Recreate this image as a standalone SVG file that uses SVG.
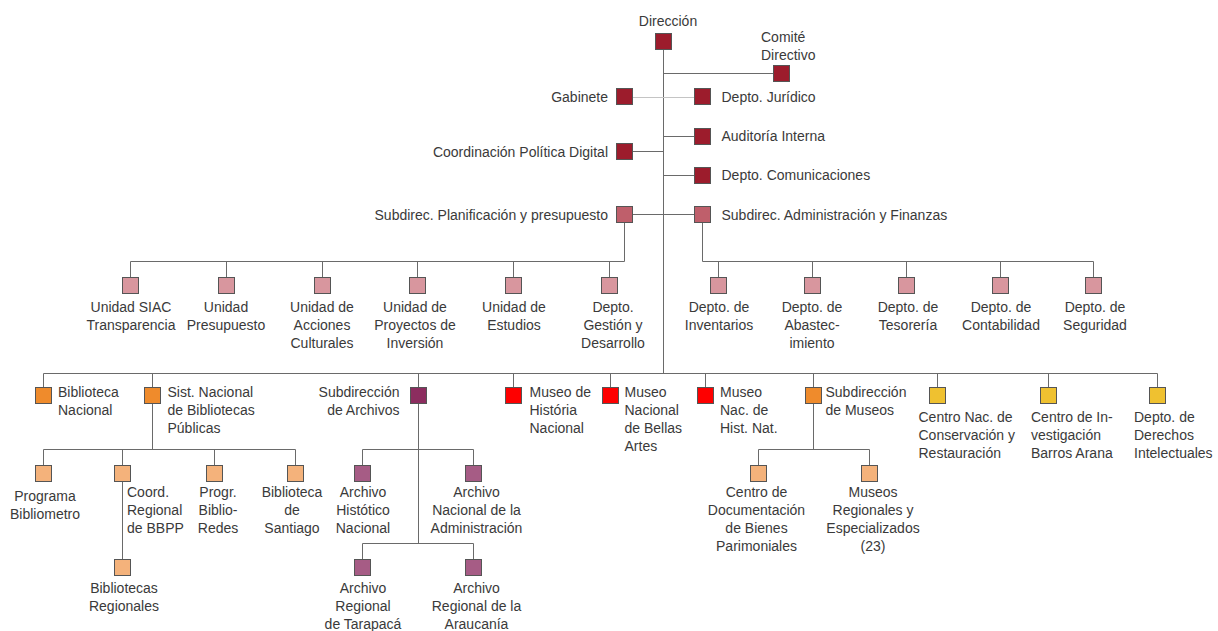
<svg xmlns="http://www.w3.org/2000/svg" width="1218" height="631" viewBox="0 0 1218 631">
<style>
.t{font-family:"Liberation Sans",Arial,sans-serif;font-size:14px;fill:#3a3a3a}
.m{text-anchor:middle}
.e{text-anchor:end}
.ln{stroke:#6a6a6a;stroke-width:1;fill:none}
.lt{stroke:#c4c4c4;stroke-width:1;fill:none}
.bx{stroke:#555;stroke-width:1}
.c1{fill:#9c1c2c}.c2{fill:#bf5f6b}.c3{fill:#d8969e}
.c4{fill:#ef8b2c}.c5{fill:#f4b27b}.c6{fill:#8c2d5f}.c7{fill:#a65c85}
.c8{fill:#fe0000}.c9{fill:#efc130}
</style>
<rect x="0" y="0" width="1218" height="631" fill="#ffffff"/>
<g id="connectors">
<path class="ln" d="M663.5 50V373.5"/>
<path class="ln" d="M663.5 73.5H773"/>
<path class="lt" d="M633 97.5H694"/>
<path class="ln" d="M663.5 136.5H694"/>
<path class="ln" d="M633 151.5H663.5"/>
<path class="ln" d="M663.5 175.5H694"/>
<path class="ln" d="M633 214.5H694"/>
<path class="ln" d="M624.5 223V261.5H130.5M130.5 261.5V277M226.5 261.5V277M322.5 261.5V277M417.5 261.5V277M513.5 261.5V277M609.5 261.5V277"/>
<path class="ln" d="M702.5 223V261.5H1093.5M718.5 261.5V277M812.5 261.5V277M906.5 261.5V277M1000.5 261.5V277M1093.5 261.5V277"/>
<path class="ln" d="M43.5 373.5H1157.5M43.5 373.5V387M152.5 373.5V387M418.5 373.5V387M513.5 373.5V387M610.5 373.5V387M705.5 373.5V387M813.5 373.5V387M937.5 373.5V387M1048.5 373.5V387M1157.5 373.5V387"/>
<path class="ln" d="M152.5 404V449.5M43.5 449.5H295.5M43.5 449.5V465M122.5 449.5V465M214.5 449.5V465M295.5 449.5V465"/>
<path class="ln" d="M122.5 482V559"/>
<path class="ln" d="M418.5 404V543.5M362.5 449.5H473.5M362.5 449.5V465M473.5 449.5V465M362.5 543.5H473.5M362.5 543.5V559M473.5 543.5V559"/>
<path class="ln" d="M813.5 404V449.5M758.5 449.5H869.5M758.5 449.5V465M869.5 449.5V465"/>
</g>
<g id="n-direccion"><rect class="bx c1" x="655.5" y="33.5" width="16" height="16"/><text class="t m" x="668" y="25.5">Dirección</text></g>
<g id="n-comite"><rect class="bx c1" x="773.5" y="65.5" width="16" height="16"/><text class="t" x="761" y="41.5">Comité</text><text class="t" x="761" y="59.5">Directivo</text></g>
<g id="n-gabinete"><rect class="bx c1" x="616.5" y="88.5" width="16" height="16"/><text class="t e" x="608" y="102">Gabinete</text></g>
<g id="n-juridico"><rect class="bx c1" x="694.5" y="88.5" width="16" height="16"/><text class="t" x="721.5" y="102">Depto. Jurídico</text></g>
<g id="n-auditoria"><rect class="bx c1" x="694.5" y="128.5" width="16" height="16"/><text class="t" x="721.5" y="141">Auditoría Interna</text></g>
<g id="n-coordinacion"><rect class="bx c1" x="616.5" y="143.5" width="16" height="16"/><text class="t e" x="608" y="156.5">Coordinación Política Digital</text></g>
<g id="n-comunicaciones"><rect class="bx c1" x="694.5" y="167.5" width="16" height="16"/><text class="t" x="721.5" y="180">Depto. Comunicaciones</text></g>
<g id="n-planificacion"><rect class="bx c2" x="616.5" y="206.5" width="16" height="16"/><text class="t e" x="608" y="219.5">Subdirec. Planificación y presupuesto</text></g>
<g id="n-administracion"><rect class="bx c2" x="694.5" y="206.5" width="16" height="16"/><text class="t" x="721.5" y="219.5">Subdirec. Administración y Finanzas</text></g>
<g id="n-siac"><rect class="bx c3" x="122.5" y="277.5" width="16" height="16"/><text class="t m" x="131" y="311.5">Unidad SIAC</text><text class="t m" x="131" y="329.5">Transparencia</text></g>
<g id="n-presupuesto"><rect class="bx c3" x="218.5" y="277.5" width="16" height="16"/><text class="t m" x="226" y="311.5">Unidad</text><text class="t m" x="226" y="329.5">Presupuesto</text></g>
<g id="n-acciones"><rect class="bx c3" x="314.5" y="277.5" width="16" height="16"/><text class="t m" x="322" y="311.5">Unidad de</text><text class="t m" x="322" y="329.5">Acciones</text><text class="t m" x="322" y="347.5">Culturales</text></g>
<g id="n-proyectos"><rect class="bx c3" x="409.5" y="277.5" width="16" height="16"/><text class="t m" x="415" y="311.5">Unidad de</text><text class="t m" x="415" y="329.5">Proyectos de</text><text class="t m" x="415" y="347.5">Inversión</text></g>
<g id="n-estudios"><rect class="bx c3" x="505.5" y="277.5" width="16" height="16"/><text class="t m" x="514" y="311.5">Unidad de</text><text class="t m" x="514" y="329.5">Estudios</text></g>
<g id="n-gestion"><rect class="bx c3" x="601.5" y="277.5" width="16" height="16"/><text class="t m" x="613" y="311.5">Depto.</text><text class="t m" x="613" y="329.5">Gestión y</text><text class="t m" x="613" y="347.5">Desarrollo</text></g>
<g id="n-inventarios"><rect class="bx c3" x="710.5" y="277.5" width="16" height="16"/><text class="t m" x="719" y="311.5">Depto. de</text><text class="t m" x="719" y="329.5">Inventarios</text></g>
<g id="n-abastecimiento"><rect class="bx c3" x="804.5" y="277.5" width="16" height="16"/><text class="t m" x="812" y="311.5">Depto. de</text><text class="t m" x="812" y="329.5">Abastec-</text><text class="t m" x="812" y="347.5">imiento</text></g>
<g id="n-tesoreria"><rect class="bx c3" x="898.5" y="277.5" width="16" height="16"/><text class="t m" x="908" y="311.5">Depto. de</text><text class="t m" x="908" y="329.5">Tesorería</text></g>
<g id="n-contabilidad"><rect class="bx c3" x="992.5" y="277.5" width="16" height="16"/><text class="t m" x="1001" y="311.5">Depto. de</text><text class="t m" x="1001" y="329.5">Contabilidad</text></g>
<g id="n-seguridad"><rect class="bx c3" x="1085.5" y="277.5" width="16" height="16"/><text class="t m" x="1095" y="311.5">Depto. de</text><text class="t m" x="1095" y="329.5">Seguridad</text></g>
<g id="n-biblioteca-nacional"><rect class="bx c4" x="35.5" y="387.5" width="16" height="16"/><text class="t" x="58" y="396.5">Biblioteca</text><text class="t" x="58" y="414.5">Nacional</text></g>
<g id="n-sist-bibliotecas"><rect class="bx c4" x="144.5" y="387.5" width="16" height="16"/><text class="t" x="167.5" y="396.5">Sist. Nacional</text><text class="t" x="167.5" y="414.5">de Bibliotecas</text><text class="t" x="167.5" y="432.5">Públicas</text></g>
<g id="n-subdir-archivos"><rect class="bx c6" x="410.5" y="387.5" width="16" height="16"/><text class="t e" x="399.5" y="396.5">Subdirección</text><text class="t e" x="399.5" y="414.5">de Archivos</text></g>
<g id="n-museo-historia"><rect class="bx c8" x="505.5" y="387.5" width="16" height="16"/><text class="t" x="529.5" y="396.5">Museo de</text><text class="t" x="529.5" y="414.5">História</text><text class="t" x="529.5" y="432.5">Nacional</text></g>
<g id="n-museo-bellas-artes"><rect class="bx c8" x="602.5" y="387.5" width="16" height="16"/><text class="t" x="624.5" y="396.5">Museo</text><text class="t" x="624.5" y="414.5">Nacional</text><text class="t" x="624.5" y="432.5">de Bellas</text><text class="t" x="624.5" y="450.5">Artes</text></g>
<g id="n-museo-hist-nat"><rect class="bx c8" x="697.5" y="387.5" width="16" height="16"/><text class="t" x="720" y="396.5">Museo</text><text class="t" x="720" y="414.5">Nac. de</text><text class="t" x="720" y="432.5">Hist. Nat.</text></g>
<g id="n-subdir-museos"><rect class="bx c4" x="805.5" y="387.5" width="16" height="16"/><text class="t" x="825.5" y="396.5">Subdirección</text><text class="t" x="825.5" y="414.5">de Museos</text></g>
<g id="n-conservacion"><rect class="bx c9" x="929.5" y="387.5" width="16" height="16"/><text class="t" x="918.5" y="421.5">Centro Nac. de</text><text class="t" x="918.5" y="439.5">Conservación y</text><text class="t" x="918.5" y="457.5">Restauración</text></g>
<g id="n-barros-arana"><rect class="bx c9" x="1040.5" y="387.5" width="16" height="16"/><text class="t" x="1031" y="421.5">Centro de In-</text><text class="t" x="1031" y="439.5">vestigación</text><text class="t" x="1031" y="457.5">Barros Arana</text></g>
<g id="n-derechos"><rect class="bx c9" x="1149.5" y="387.5" width="16" height="16"/><text class="t" x="1134" y="421.5">Depto. de</text><text class="t" x="1134" y="439.5">Derechos</text><text class="t" x="1134" y="457.5">Intelectuales</text></g>
<g id="n-bibliometro"><rect class="bx c5" x="35.5" y="465.5" width="16" height="16"/><text class="t m" x="45" y="501">Programa</text><text class="t m" x="45" y="519">Bibliometro</text></g>
<g id="n-coord-regional"><rect class="bx c5" x="114.5" y="465.5" width="16" height="16"/><text class="t" x="127" y="497">Coord.</text><text class="t" x="127" y="515">Regional</text><text class="t" x="127" y="533">de BBPP</text></g>
<g id="n-biblioredes"><rect class="bx c5" x="206.5" y="465.5" width="16" height="16"/><text class="t m" x="218" y="497">Progr.</text><text class="t m" x="218" y="515">Biblio-</text><text class="t m" x="218" y="533">Redes</text></g>
<g id="n-biblioteca-santiago"><rect class="bx c5" x="287.5" y="465.5" width="16" height="16"/><text class="t m" x="292" y="497">Biblioteca</text><text class="t m" x="292" y="515">de</text><text class="t m" x="292" y="533">Santiago</text></g>
<g id="n-bibliotecas-regionales"><rect class="bx c5" x="114.5" y="559.5" width="16" height="16"/><text class="t m" x="124" y="593">Bibliotecas</text><text class="t m" x="124" y="611">Regionales</text></g>
<g id="n-archivo-historico"><rect class="bx c7" x="354.5" y="465.5" width="16" height="16"/><text class="t m" x="363" y="497">Archivo</text><text class="t m" x="363" y="515">Histótico</text><text class="t m" x="363" y="533">Nacional</text></g>
<g id="n-archivo-administracion"><rect class="bx c7" x="465.5" y="465.5" width="16" height="16"/><text class="t m" x="476.5" y="497">Archivo</text><text class="t m" x="476.5" y="515">Nacional de la</text><text class="t m" x="476.5" y="533">Administración</text></g>
<g id="n-archivo-tarapaca"><rect class="bx c7" x="354.5" y="559.5" width="16" height="16"/><text class="t m" x="363" y="593">Archivo</text><text class="t m" x="363" y="611">Regional</text><text class="t m" x="363" y="629">de Tarapacá</text></g>
<g id="n-archivo-araucania"><rect class="bx c7" x="465.5" y="559.5" width="16" height="16"/><text class="t m" x="476.5" y="593">Archivo</text><text class="t m" x="476.5" y="611">Regional de la</text><text class="t m" x="476.5" y="629">Araucanía</text></g>
<g id="n-documentacion"><rect class="bx c5" x="750.5" y="465.5" width="16" height="16"/><text class="t m" x="756.5" y="497">Centro de</text><text class="t m" x="756.5" y="515">Documentación</text><text class="t m" x="756.5" y="533">de Bienes</text><text class="t m" x="756.5" y="551">Parimoniales</text></g>
<g id="n-museos-regionales"><rect class="bx c5" x="861.5" y="465.5" width="16" height="16"/><text class="t m" x="873" y="497">Museos</text><text class="t m" x="873" y="515">Regionales y</text><text class="t m" x="873" y="533">Especializados</text><text class="t m" x="873" y="551">(23)</text></g>
</svg>
